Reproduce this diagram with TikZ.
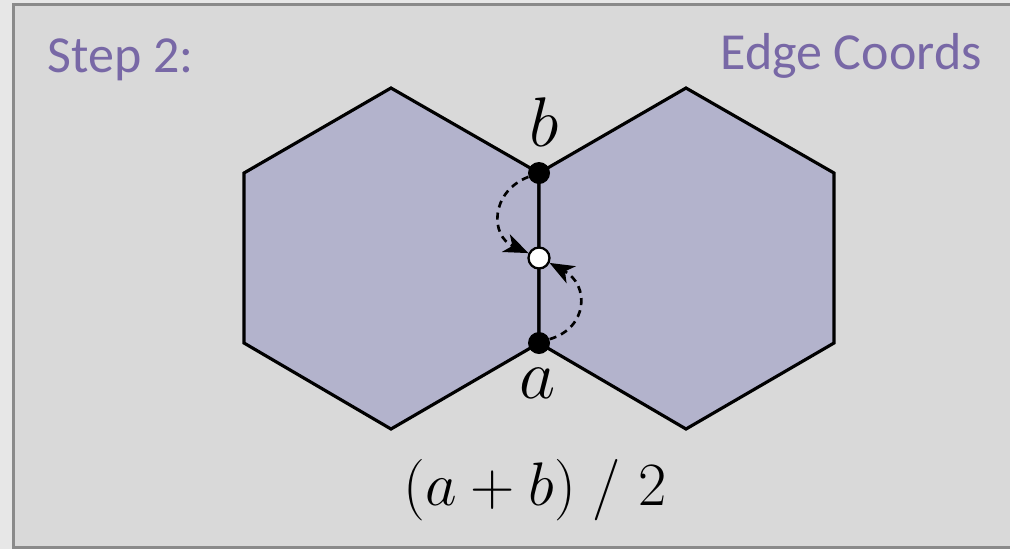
\RequirePackage{fix-cm}
\documentclass[tikz,border=0pt]{standalone}
\usepackage{fontspec}
\setmainfont{Carlito}
\usepackage{tikz}
\usetikzlibrary{arrows.meta}

\definecolor{pagegray}{RGB}{231,231,231}
\definecolor{panelgray}{RGB}{217,217,217}
\definecolor{framegray}{RGB}{138,138,138}
\definecolor{hexfill}{RGB}{179,179,204}
\definecolor{titlepurple}{RGB}{120,104,166}

\tikzset{
  hexagon/.style={fill=hexfill, draw=black, line width=1.8pt, line join=miter},
  vertexdot/.style={circle, fill=black, inner sep=0pt, minimum size=0.44cm},
  middot/.style={circle, fill=white, draw=black, line width=1.3pt, inner sep=0pt, minimum size=0.42cm},
  movearrow/.style={line width=1.5pt, dash pattern=on 4pt off 3pt, -{Stealth[length=14pt,width=11pt,inset=4pt]}},
  title/.style={text=titlepurple, font=\fontsize{29.6}{30}\selectfont, inner sep=0pt},
  vlabel/.style={font=\fontsize{40}{40}\selectfont, inner sep=0pt}
}

\begin{document}
\begin{tikzpicture}[x=0.02cm, y=-0.02cm]

% page and panel
\useasboundingbox (0,0) rectangle (1010,549);
\fill[pagegray] (0,0) rectangle (1010,549);
\draw[framegray, fill=panelgray, line width=1.7pt] (13.5,4) rectangle (1014,547.5);

% headings
\node[title, anchor=base west] (step) at (47,72) {Step 2:};
\node[title, anchor=base east] (mode) at (982,69) {Edge Coords};

% two hexagons
\draw[hexagon] (391,88) -- (539,173) -- (539,343) -- (391,429) -- (244,343) -- (244,173) -- cycle;
\draw[hexagon] (686,88) -- (834,173) -- (834,343) -- (686,429) -- (539,343) -- (539,173) -- cycle;

% edge end points and midpoint
\node[vertexdot] (b) at (539,173) {};
\node[vertexdot] (a) at (539,343) {};
\node[middot] (m) at (539,258) {};

\draw[movearrow] (b.200) .. controls (490,192) and (490,236) .. (m.155);
\draw[movearrow] (a.20) .. controls (588,328) and (590,285) .. (m.-25);

% labels
\node[vlabel, anchor=base] (lb) at (544,146) {$b$};
\node[vlabel, anchor=base] (la) at (538,398) {$a$};
\node[font=\fontsize{35}{35}\selectfont, anchor=base, inner sep=0pt] (avg) at (535,505) {$(a+b)\;/\;2$};

\end{tikzpicture}
\end{document}
